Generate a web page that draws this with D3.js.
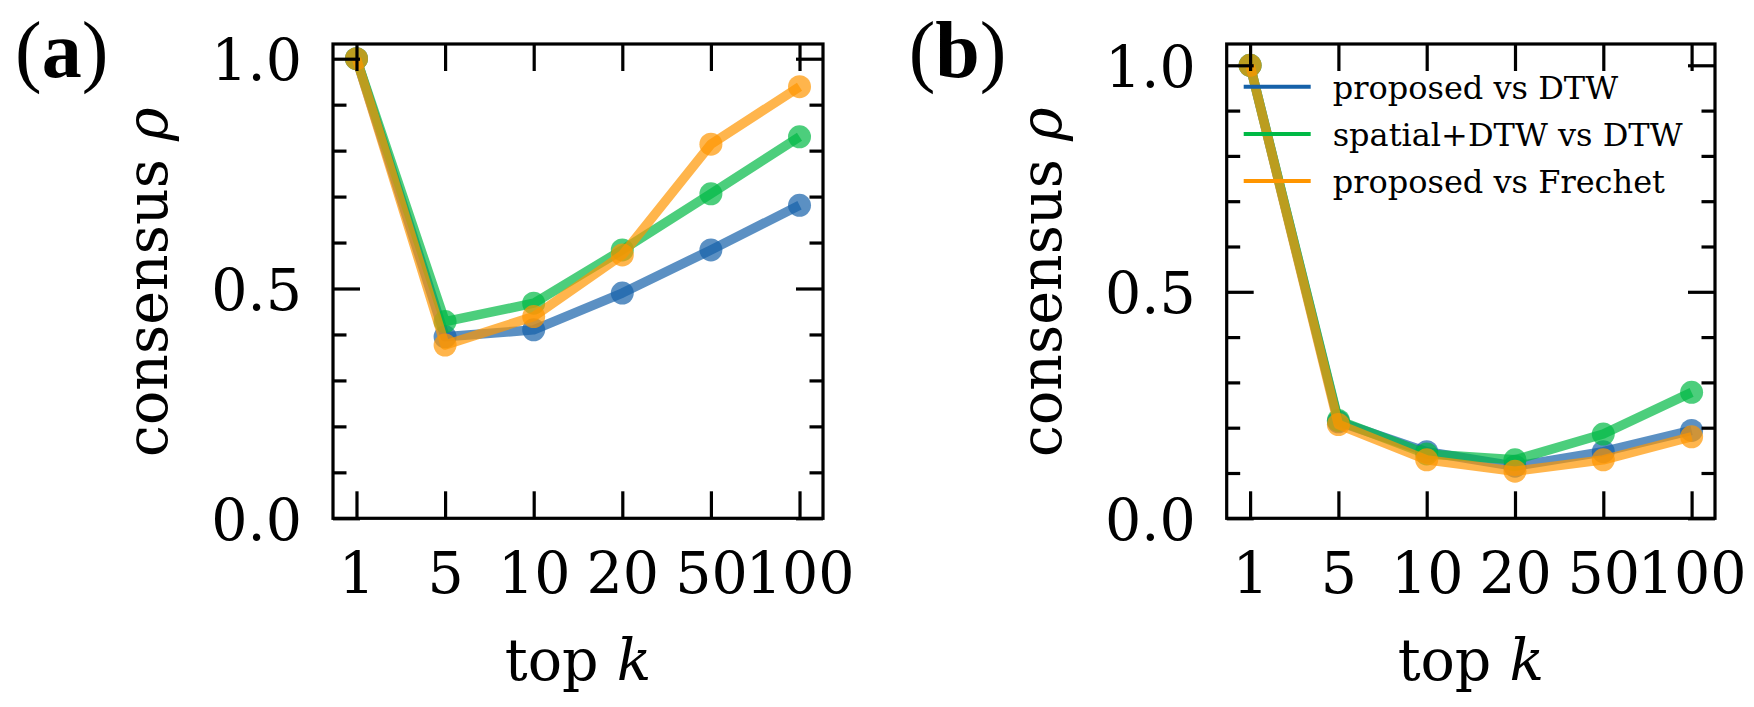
<!DOCTYPE html>
<meta charset="utf-8">
<script src="https://d3js.org/d3.v7.min.js"></script>
<style>
  body { margin: 0; background: white; }
  text { font-family: "DejaVu Serif", serif; fill: black; }
</style>
<div id="chart"></div>
<script>

// x categories (top k) and y ticks
const topK = ["1", "5", "10", "20", "50", "100"];
const yMajor = [0, 0.5, 1.0];
const yMinor = [0.1, 0.2, 0.3, 0.4, 0.6, 0.7, 0.8, 0.9];
const seriesNames = ["proposed vs DTW", "spatial+DTW vs DTW", "proposed vs Frechet"];
const seriesColors = ["#1561a9", "#00b945", "#ff9500"];

// panel (a)
const aProposedDTW     = [1.0, 0.395, 0.410, 0.490, 0.584, 0.681];
const aSpatialDTW      = [1.0, 0.428, 0.468, 0.584, 0.706, 0.830];
const aProposedFrechet = [1.0, 0.377, 0.439, 0.573, 0.814, 0.939];

// panel (b)
const bProposedDTW     = [1.0, 0.213, 0.147, 0.115, 0.147, 0.194];
const bSpatialDTW      = [1.0, 0.216, 0.142, 0.129, 0.186, 0.278];
const bProposedFrechet = [1.0, 0.207, 0.129, 0.104, 0.129, 0.180];

const width = 1754, height = 707;
const plotTop = 44, plotBottom = 518.3;
const fontSize = 57;

const svg = d3.select("#chart").append("svg")
  .attr("width", width)
  .attr("height", height);

function panel(left, right, yMax, series, tag, showLegend) {
  const x = d3.scalePoint().domain(topK).range([left, right]).padding(0.265);
  const y = d3.scaleLinear().domain([0, yMax]).range([plotBottom, plotTop]);
  const g = svg.append("g");

  // data: line then markers, series in order
  series.forEach(function(vals, i) {
    const pts = vals.map(function(v, j) { return [topK[j], v]; });
    g.append("path")
      .datum(pts)
      .attr("fill", "none")
      .attr("stroke", seriesColors[i])
      .attr("stroke-opacity", 0.7)
      .attr("stroke-width", 9.5)
      .attr("stroke-linejoin", "round")
      .attr("d", d3.line().x(d => x(d[0])).y(d => y(d[1])));
    g.selectAll(null)
      .data(pts)
      .join("circle")
      .attr("cx", d => x(d[0]))
      .attr("cy", d => y(d[1]))
      .attr("r", 11.5)
      .attr("fill", seriesColors[i])
      .attr("fill-opacity", 0.7);
  });

  // axes, ticks pointing inward on all four sides
  const bx = g.append("g").attr("transform", `translate(0,${plotBottom})`)
    .call(d3.axisBottom(x).tickSizeInner(-27).tickSizeOuter(0));
  bx.selectAll("text").attr("y", 75).attr("dy", null);
  g.append("g").attr("transform", `translate(0,${plotTop})`)
    .call(d3.axisTop(x).tickSizeInner(-27).tickSizeOuter(0).tickFormat(""));

  const ly = g.append("g").attr("transform", `translate(${left},0)`)
    .call(d3.axisLeft(y).tickValues(yMajor).tickSizeInner(-27).tickSizeOuter(0).tickFormat(d3.format(".1f")));
  ly.selectAll("text").attr("x", -31).attr("dy", "0.365em");
  g.append("g").attr("transform", `translate(${left},0)`)
    .call(d3.axisLeft(y).tickValues(yMinor).tickSizeInner(-13.5).tickSizeOuter(0).tickFormat(""));
  g.append("g").attr("transform", `translate(${right},0)`)
    .call(d3.axisRight(y).tickValues(yMajor).tickSizeInner(-27).tickSizeOuter(0).tickFormat(""));
  g.append("g").attr("transform", `translate(${right},0)`)
    .call(d3.axisRight(y).tickValues(yMinor).tickSizeInner(-13.5).tickSizeOuter(0).tickFormat(""));

  g.selectAll(".domain").remove();
  g.selectAll(".tick line").attr("stroke", "black").attr("stroke-width", 3.2);
  g.selectAll("g").attr("font-family", null).attr("font-size", null);
  g.selectAll(".tick text").attr("fill", "black").style("font-size", fontSize + "px");

  g.append("rect")
    .attr("x", left).attr("y", plotTop)
    .attr("width", right - left).attr("height", plotBottom - plotTop)
    .attr("fill", "none").attr("stroke", "black").attr("stroke-width", 3.2);

  // axis titles
  const xl = g.append("text")
    .attr("x", (left + right) / 2).attr("y", 680)
    .attr("text-anchor", "middle").style("font-size", fontSize + "px")
    .text("top ");
  xl.append("tspan").style("font-style", "italic").text("k");

  const yl = g.append("text")
    .attr("transform", `translate(${left - 166},${(plotTop + plotBottom) / 2 + 1}) rotate(-90)`)
    .attr("text-anchor", "middle").style("font-size", fontSize + "px")
    .text("consensus ");
  yl.append("tspan").style("font-style", "italic").text("ρ");

  // panel tag
  const t = g.append("text")
    .attr("x", left - 318).attr("y", 77)
    .style("font-family", "'Liberation Serif', serif")
    .style("font-size", "80px");
  t.append("tspan").text("(");
  t.append("tspan").style("font-weight", "bold").text(tag);
  t.append("tspan").text(")");

  if (showLegend) {
    const lg = g.selectAll(".legend")
      .data(seriesNames)
      .join("g")
      .attr("class", "legend")
      .attr("transform", (d, i) => `translate(${left + 17},${86.7 + i * 47.2})`);
    lg.append("line")
      .attr("x1", 0).attr("x2", 67)
      .attr("stroke", (d, i) => seriesColors[i])
      .attr("stroke-width", 4);
    lg.append("text")
      .attr("x", 89).attr("y", 12)
      .style("font-size", "32px")
      .text(d => d);
  }
}

panel(333, 823, 1.032, [aProposedDTW, aSpatialDTW, aProposedFrechet], "a", false);
panel(1226.7, 1715, 1.047, [bProposedDTW, bSpatialDTW, bProposedFrechet], "b", true);

</script>
